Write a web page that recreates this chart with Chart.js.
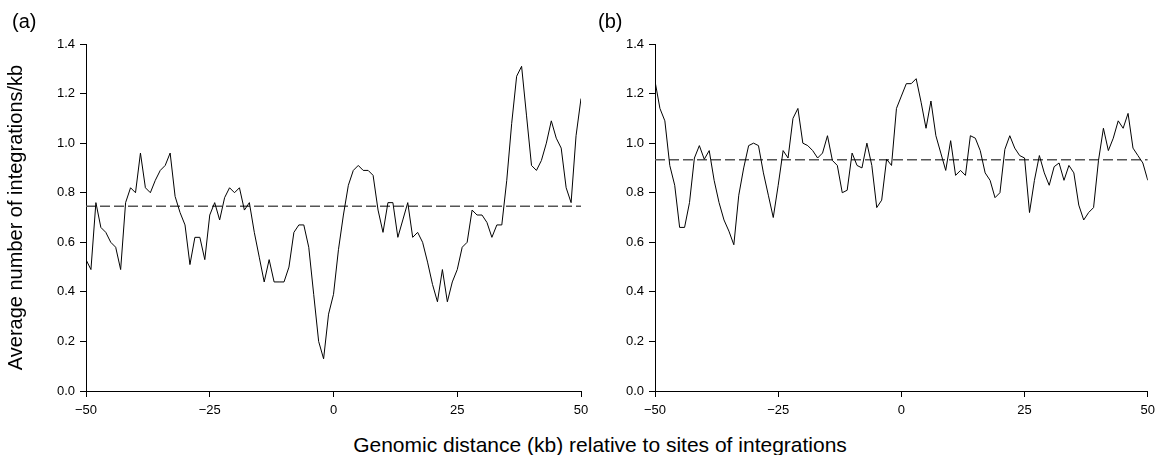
<!DOCTYPE html>
<html>
<head>
<meta charset="utf-8">
<script src="https://cdn.jsdelivr.net/npm/chart.js@4"></script>
<style>
  html, body { margin:0; padding:0; background:#fff; }
  body { width:1161px; height:455px; position:relative; overflow:hidden; font-family:"Liberation Sans", Arial, sans-serif; color:#000; }
  canvas { position:absolute; top:0; }
  .lbl { position:absolute; font-size:20px; line-height:20px; white-space:nowrap; }
</style>
</head>
<body>
<canvas id="ca" width="600" height="425" style="left:0px"></canvas>
<canvas id="cb" width="592" height="425" style="left:569px"></canvas>
<div class="lbl" style="left:12px; top:11px;">(a)</div>
<div class="lbl" style="left:598px; top:11px;">(b)</div>
<div class="lbl" id="xt" style="left:0; width:1200px; text-align:center; top:435px; font-size:21px;">Genomic distance (kb) relative to sites of integrations</div>
<script>
// ---- data ----
const distanceKb = [-50,-49,-48,-47,-46,-45,-44,-43,-42,-41,-40,-39,-38,-37,-36,-35,-34,-33,-32,-31,-30,-29,-28,-27,-26,-25,-24,-23,-22,-21,-20,-19,-18,-17,-16,-15,-14,-13,-12,-11,-10,-9,-8,-7,-6,-5,-4,-3,-2,-1,0,1,2,3,4,5,6,7,8,9,10,11,12,13,14,15,16,17,18,19,20,21,22,23,24,25,26,27,28,29,30,31,32,33,34,35,36,37,38,39,40,41,42,43,44,45,46,47,48,49,50];

const panelA = [0.53,0.49,0.76,0.66,0.64,0.60,0.58,0.49,0.76,0.82,
  0.80,0.96,0.82,0.80,0.85,0.89,0.91,0.96,0.785,0.72,
  0.67,0.51,0.62,0.62,0.53,0.71,0.76,0.69,0.78,0.82,
  0.80,0.82,0.73,0.76,0.64,0.54,0.44,0.53,0.44,0.44,
  0.44,0.50,0.64,0.67,0.67,0.58,0.39,0.20,0.13,0.31,
  0.39,0.57,0.71,0.83,0.89,0.91,0.89,0.89,0.87,0.73,
  0.64,0.76,0.76,0.62,0.69,0.76,0.62,0.64,0.60,0.52,
  0.43,0.36,0.49,0.36,0.44,0.49,0.58,0.60,0.73,0.71,
  0.71,0.68,0.62,0.67,0.67,0.85,1.08,1.27,1.31,1.11,
  0.91,0.89,0.93,1.00,1.09,1.02,0.98,0.82,0.76,1.03,
  1.18];

const panelB = [1.25,1.14,1.09,0.91,0.83,0.66,0.66,0.76,0.94,0.99,
  0.935,0.97,0.85,0.76,0.69,0.645,0.59,0.79,0.90,0.99,
  1.00,0.99,0.88,0.79,0.70,0.83,0.97,0.94,1.10,1.14,
  1.00,0.99,0.97,0.94,0.96,1.03,0.93,0.91,0.80,0.81,
  0.96,0.91,0.90,1.00,0.91,0.74,0.77,0.935,0.91,1.14,
  1.19,1.24,1.24,1.26,1.165,1.06,1.17,1.03,0.96,0.89,
  1.01,0.87,0.89,0.87,1.03,1.02,0.97,0.88,0.85,0.78,
  0.80,0.975,1.03,0.98,0.95,0.94,0.72,0.85,0.95,0.88,
  0.83,0.905,0.92,0.85,0.91,0.88,0.75,0.69,0.72,0.74,
  0.93,1.06,0.97,1.02,1.09,1.06,1.12,0.98,0.95,0.92,
  0.85];

const meanA = 0.745;
const meanB = 0.933;

const xTickValues = [-50, -25, 0, 25, 50];
const yTickValues = [0, 0.2, 0.4, 0.6, 0.8, 1.0, 1.2, 1.4];
const yTitle = 'Average number of integrations/kb';

// ---- chart ----
const FONT = '"Liberation Sans", Arial, sans-serif';

function makeChart(id, values, mean, showTitle, rightPad) {
  const ctx = document.getElementById(id).getContext('2d');
  const xMin = xTickValues[0], xMax = xTickValues[xTickValues.length - 1];
  return new Chart(ctx, {
    type: 'line',
    data: {
      datasets: [
        {
          data: distanceKb.map((d, i) => ({ x: d, y: values[i] })),
          borderColor: '#000', borderWidth: 1, pointRadius: 0, tension: 0, fill: false
        },
        {
          data: [{ x: xMin, y: mean }, { x: xMax, y: mean }],
          borderColor: '#555', borderWidth: 1.5, borderDash: [10, 4], pointRadius: 0, fill: false
        }
      ]
    },
    options: {
      responsive: false, animation: false, maintainAspectRatio: false,
      layout: { padding: { top: 44, right: rightPad, left: 0, bottom: 0 } },
      plugins: { legend: { display: false }, tooltip: { enabled: false } },
      scales: {
        x: {
          type: 'linear', min: xMin, max: xMax,
          afterBuildTicks: s => { s.ticks = xTickValues.map(v => ({ value: v })); },
          afterFit: s => { s.height = 34; },
          ticks: {
            color: '#000', font: { family: FONT, size: 13 }, padding: 6,
            maxRotation: 0, autoSkip: false,
            callback: v => String(v).replace('-', '\u2212')
          },
          grid: { display: true, drawOnChartArea: false, drawTicks: true, tickLength: 6, color: '#000' },
          border: { display: true, color: '#000', width: 1 }
        },
        y: {
          type: 'linear', min: 0, max: 1.4,
          afterBuildTicks: s => { s.ticks = yTickValues.map(v => ({ value: v })); },
          afterFit: s => { s.width = 86; },
          ticks: {
            color: '#000', font: { family: FONT, size: 13 }, padding: 5,
            callback: v => Number(v).toFixed(1)
          },
          grid: { display: true, drawOnChartArea: false, drawTicks: true, tickLength: 6, color: '#000' },
          border: { display: true, color: '#000', width: 1 },
          title: { display: showTitle, text: yTitle, color: '#000', font: { family: FONT, size: 20 }, padding: { top: 4, bottom: 4 } }
        }
      }
    }
  });
}

makeChart('ca', panelA, meanA, true, 19);
makeChart('cb', panelB, meanB, false, 11);
</script>
</body>
</html>
